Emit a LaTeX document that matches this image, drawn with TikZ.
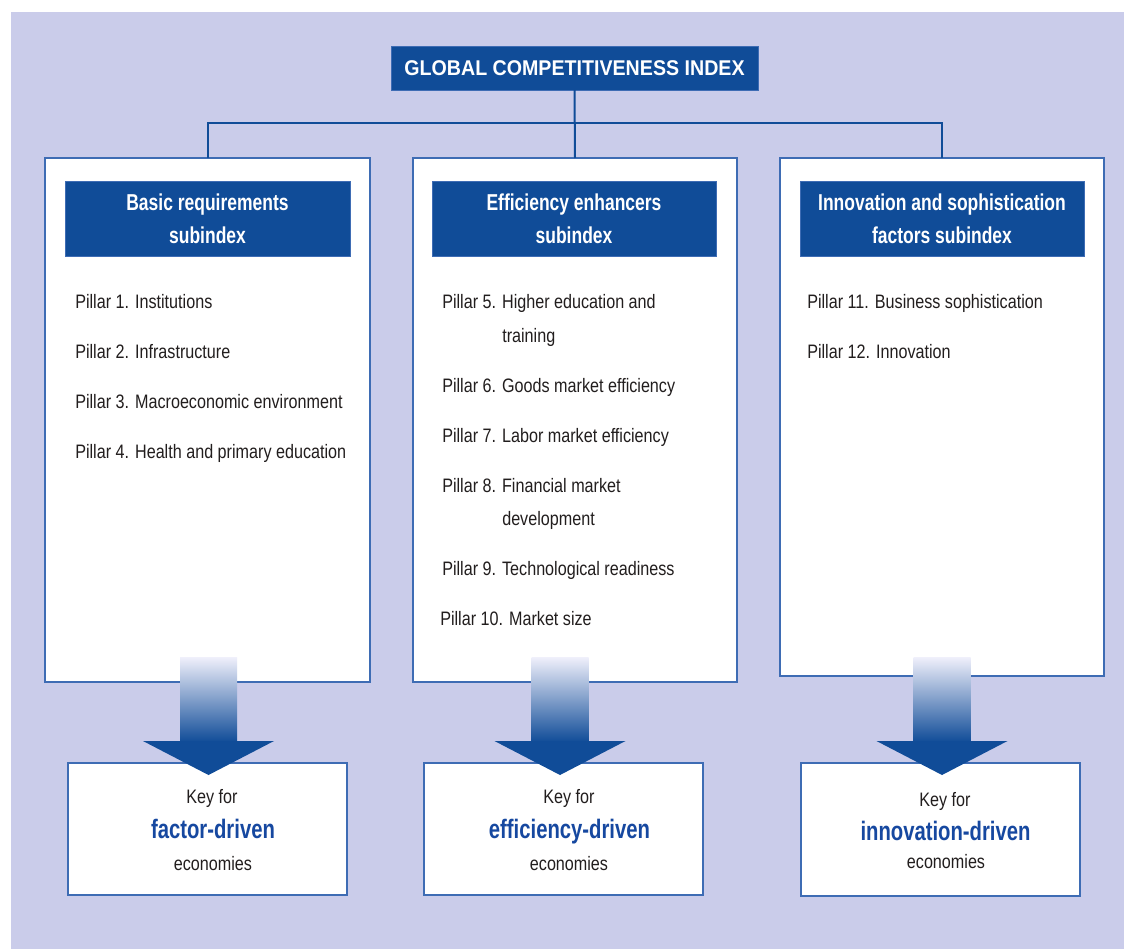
\documentclass[tikz,border=0pt]{standalone}
\usepackage{fontspec}
\setmainfont{Liberation Sans}[FakeStretch=0.83]
\newfontfamily\hdrfont{Liberation Sans}[FakeStretch=0.76]
\newfontfamily\titlefont{Liberation Sans}[FakeStretch=0.92]
\usetikzlibrary{calc}
\definecolor{bgc}{RGB}{202,204,234}
\definecolor{dblue}{RGB}{16,76,152}
\definecolor{bordc}{RGB}{62,108,180}
\definecolor{txtc}{RGB}{34,30,30}
\definecolor{keyblue}{RGB}{22,72,160}
\definecolor{shtop}{RGB}{240,240,251}
\definecolor{shmid}{RGB}{135,152,207}
\def\pxu{0.75pt}
\newcommand\bigarrow[1]{%
  \shade[top color=shtop,middle color=shmid,bottom color=dblue] (#1-28.5,657) rectangle (#1+28.5,742);
  \fill[dblue] (#1-65.5,741) -- (#1+65.5,741) -- (#1,775) -- cycle;}
\begin{document}
\begin{tikzpicture}[x=0.75pt,y=-0.75pt,
 box/.style={draw=bordc,line width=1.1pt,fill=white,inner sep=0pt,outer sep=0pt,anchor=north west},
 hdr/.style={fill=dblue,draw=bordc,line width=0.6pt,inner sep=0pt,outer sep=0pt,anchor=north west,text=white,align=center,font=\hdrfont\bfseries\fontsize{17.25}{24.75}\selectfont},
 pil/.style={anchor=base west,inner sep=0pt,text=txtc,font=\fontsize{14.6}{18}\selectfont},
 key/.style={anchor=base,inner sep=0pt,text=txtc,font=\fontsize{14.6}{18}\selectfont},
 keyb/.style={anchor=base,inner sep=0pt,text=keyblue,font=\hdrfont\bfseries\fontsize{20}{24}\selectfont},
 conn/.style={draw=dblue,line width=1.5pt}
]
\useasboundingbox (0,0) rectangle (1124,949);
\fill[bgc] (11,12) rectangle (1124,949);

% title
\node[hdr,minimum width=367*\pxu,minimum height=44*\pxu,font=\titlefont\bfseries\fontsize{16}{18}\selectfont] (gci) at (391,46) {GLOBAL COMPETITIVENESS INDEX};

% big boxes
\node[box,minimum width=325*\pxu,minimum height=524*\pxu] (b1) at (45,158) {};
\node[box,minimum width=324*\pxu,minimum height=524*\pxu] (b2) at (413,158) {};
\node[box,minimum width=324*\pxu,minimum height=518*\pxu] (b3) at (780,158) {};

% connectors
\draw[conn] (gci.south) -- (b2.north);
\draw[conn] (b1.north) -- ++(0,-35) -| (b3.north);

% headers
\node[hdr,minimum width=285*\pxu,minimum height=75*\pxu] (h1) at (65,181) {Basic requirements\\subindex};
\node[hdr,minimum width=284*\pxu,minimum height=75*\pxu] (h2) at (432,181) {Efficiency enhancers\\subindex};
\node[hdr,minimum width=284*\pxu,minimum height=75*\pxu] (h3) at (800,181) {Innovation and sophistication\\factors subindex};

% pillars left
\node[pil] (p1) at (75,308) {Pillar 1. Institutions};
\node[pil] (p2) at (75,358) {Pillar 2. Infrastructure};
\node[pil] (p3) at (75,408) {Pillar 3. Macroeconomic environment};
\node[pil] (p4) at (75,458) {Pillar 4. Health and primary education};
% pillars middle
\node[pil] (p5) at (442,308) {Pillar 5. Higher education and};
\node[pil] (p5b) at (502,342) {training};
\node[pil] (p6) at (442,392) {Pillar 6. Goods market efficiency};
\node[pil] (p7) at (442,442) {Pillar 7. Labor market efficiency};
\node[pil] (p8) at (442,492) {Pillar 8. Financial market};
\node[pil] (p8b) at (502,525) {development};
\node[pil] (p9) at (442,575) {Pillar 9. Technological readiness};
\node[pil] (p10) at (440,625) {Pillar 10. Market size};
% pillars right
\node[pil] (p11) at (807,308) {Pillar 11. Business sophistication};
\node[pil] (p12) at (807,358) {Pillar 12. Innovation};

% bottom boxes
\node[box,minimum width=279*\pxu,minimum height=132*\pxu] (k1) at (68,763) {};
\node[box,minimum width=279*\pxu,minimum height=132*\pxu] (k2) at (424,763) {};
\node[box,minimum width=279*\pxu,minimum height=133*\pxu] (k3) at (801,763) {};

% arrows
\bigarrow{208.5}
\bigarrow{560}
\bigarrow{942}

% key texts
\node[key] (k1a) at (212,803) {Key for};
\node[keyb] (k1b) at (213,838) {factor-driven};
\node[key] (k1c) at (213,870) {economies};
\node[key] (k2a) at (569,803) {Key for};
\node[keyb] (k2b) at (569.5,838) {efficiency-driven};
\node[key] (k2c) at (569,870) {economies};
\node[key] (k3a) at (945,806) {Key for};
\node[keyb] (k3b) at (945.5,840) {innovation-driven};
\node[key] (k3c) at (946,868) {economies};
\end{tikzpicture}
\end{document}
